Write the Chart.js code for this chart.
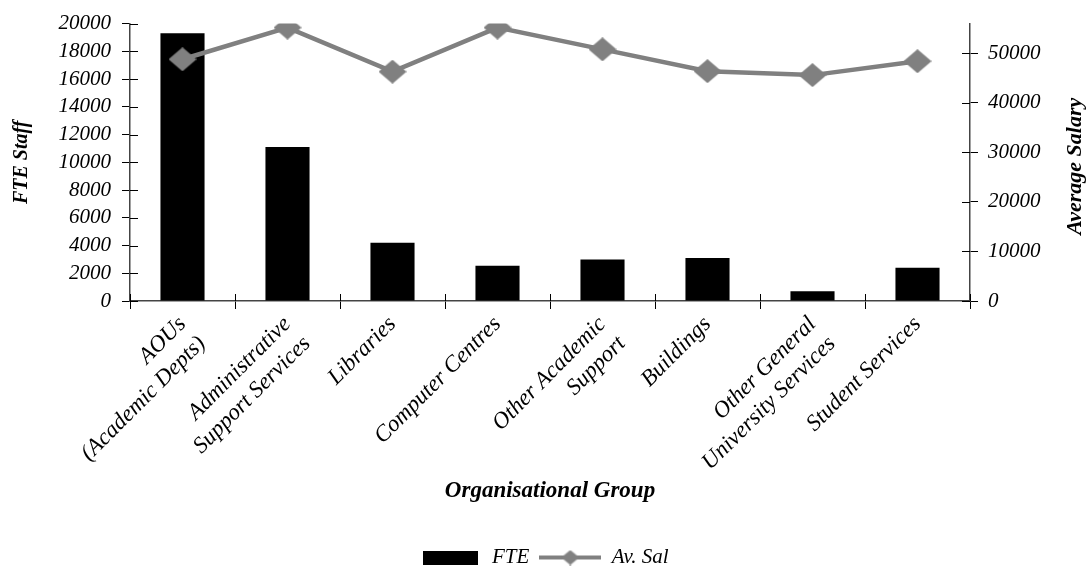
<!DOCTYPE html>
<html>
<head>
<meta charset="utf-8">
<script src="https://cdn.jsdelivr.net/npm/chart.js@4.4.0/dist/chart.umd.min.js"></script>
<style>
  html, body { margin: 0; padding: 0; background: #fff; }
</style>
</head>
<body>
<canvas id="myChart" width="1088" height="568"></canvas>
<script>
// datos
const categorias = [
  ["AOUs", "(Academic Depts)"],
  ["Administrative", "Support Services"],
  "Libraries",
  "Computer Centres",
  ["Other Academic", "Support"],
  "Buildings",
  ["Other General", "University Services"],
  "Student Services"
];
const valoresFTE = [19300, 11100, 4200, 2550, 3000, 3100, 700, 2400];
const valoresSalario = [48800, 55200, 46300, 55200, 50800, 46400, 45600, 48400];
const ticksFTE = [0, 2000, 4000, 6000, 8000, 10000, 12000, 14000, 16000, 18000, 20000];
const ticksSalario = [0, 10000, 20000, 30000, 40000, 50000];
const maxFTE = 20000;
const maxSalario = 56000;

const fuente = '"Liberation Serif", serif';
const gris = '#808080';

// marcador rombo (mas ancho que alto, como en el original)
function rombo(w, h) {
  const c = document.createElement('canvas');
  c.width = w; c.height = h;
  const g = c.getContext('2d');
  g.fillStyle = gris;
  g.beginPath();
  g.moveTo(w / 2, 0); g.lineTo(w, h / 2); g.lineTo(w / 2, h); g.lineTo(0, h / 2);
  g.closePath();
  g.fill();
  return c;
}

function cajaFTE() {
  const c = document.createElement('canvas');
  c.width = 55; c.height = 14;
  const g = c.getContext('2d');
  g.fillStyle = '#000';
  g.fillRect(0, 0, 55, 14);
  return c;
}

function lineaSalario() {
  const c = document.createElement('canvas');
  c.width = 62; c.height = 16;
  const g = c.getContext('2d');
  g.strokeStyle = gris;
  g.lineWidth = 4;
  g.beginPath(); g.moveTo(0, 8); g.lineTo(62, 8); g.stroke();
  g.drawImage(rombo(18, 15), 22, 0.5);
  return c;
}

// marcas de eje que cruzan la linea del eje, y titulo del eje derecho
const marcasInternas = {
  id: 'marcasInternas',
  afterDraw(chart) {
    const ctx = chart.ctx;
    const area = chart.chartArea;
    const x = chart.scales.x, y = chart.scales.y, y1 = chart.scales.y1;
    ctx.save();
    ctx.strokeStyle = '#000';
    ctx.lineWidth = 1;
    ctx.beginPath();
    y.ticks.forEach((t, i) => {
      const py = Math.round(y.getPixelForTick(i)) + 0.5;
      ctx.moveTo(area.left, py); ctx.lineTo(area.left + 8, py);
    });
    y1.ticks.forEach((t, i) => {
      const py = Math.round(y1.getPixelForTick(i)) + 0.5;
      ctx.moveTo(area.right - 8, py); ctx.lineTo(area.right, py);
    });
    for (let i = 0; i <= categorias.length; i++) {
      const px = Math.round(x.getPixelForValue(i - 0.5)) + 0.5;
      ctx.moveTo(px, area.bottom - 7); ctx.lineTo(px, area.bottom);
    }
    ctx.stroke();

    ctx.translate(chart.width - 13, (area.top + area.bottom) / 2 + 4);
    ctx.rotate(-Math.PI / 2);
    ctx.font = 'italic bold 22px ' + fuente;
    ctx.fillStyle = '#000';
    ctx.textAlign = 'center';
    ctx.textBaseline = 'middle';
    ctx.fillText('Average Salary', 0, 0);
    ctx.restore();
  }
};

const ctx = document.getElementById('myChart');
new Chart(ctx, {
  data: {
    labels: categorias,
    datasets: [
      {
        type: 'bar',
        label: 'FTE',
        data: valoresFTE,
        yAxisID: 'y',
        backgroundColor: '#000',
        barPercentage: 0.42,
        categoryPercentage: 1,
        order: 2
      },
      {
        type: 'line',
        label: 'Av. Sal',
        data: valoresSalario,
        yAxisID: 'y1',
        borderColor: gris,
        borderWidth: 4.5,
        pointStyle: rombo(28, 24),
        pointRadius: 12,
        tension: 0,
        order: 1
      }
    ]
  },
  options: {
    responsive: false,
    devicePixelRatio: 1,
    animation: false,
    layout: { padding: { top: 20, bottom: -10, left: 0, right: 0 } },
    plugins: {
      tooltip: { enabled: false },
      legend: {
        position: 'bottom',
        labels: {
          usePointStyle: true,
          pointStyleWidth: 62,
          padding: 10,
          color: '#000',
          font: { family: fuente, style: 'italic', size: 21 },
          generateLabels: () => [
            { text: 'FTE', pointStyle: cajaFTE(), fillStyle: '#000', strokeStyle: '#000', lineWidth: 0, datasetIndex: 0 },
            { text: 'Av. Sal', pointStyle: lineaSalario(), fillStyle: gris, strokeStyle: gris, lineWidth: 0, datasetIndex: 1 }
          ]
        }
      }
    },
    scales: {
      x: {
        offset: true,
        grid: { drawOnChartArea: false, tickLength: 8, color: '#000', offset: true },
        border: { color: '#444', width: 1.5 },
        ticks: {
          autoSkip: false,
          minRotation: 45,
          maxRotation: 45,
          padding: 2,
          color: '#000',
          font: { family: fuente, style: 'italic', size: 23 }
        },
        title: {
          display: true,
          text: 'Organisational Group',
          color: '#000',
          font: { family: fuente, style: 'italic', weight: 'bold', size: 23 },
          padding: { top: 0, bottom: 32 }
        },
        afterFit: (s) => { s.height = 236; }
      },
      y: {
        position: 'left',
        min: 0,
        max: maxFTE,
        afterBuildTicks: (s) => { s.ticks = ticksFTE.map(v => ({ value: v })); },
        grid: { drawOnChartArea: false, tickLength: 8, color: '#000' },
        border: { color: '#444', width: 1.5 },
        ticks: {
          autoSkip: false,
          padding: 11,
          color: '#000',
          font: { family: fuente, style: 'italic', size: 21 },
          callback: (v) => String(v)
        },
        title: {
          display: true,
          text: 'FTE Staff',
          color: '#000',
          font: { family: fuente, style: 'italic', weight: 'bold', size: 20 },
          padding: { top: 10, bottom: 0 }
        },
        afterFit: (s) => { s.width = 130; }
      },
      y1: {
        position: 'right',
        min: 0,
        max: maxSalario,
        afterBuildTicks: (s) => { s.ticks = ticksSalario.map(v => ({ value: v })); },
        grid: { drawOnChartArea: false, tickLength: 8, color: '#000' },
        border: { color: '#444', width: 1.5 },
        ticks: {
          autoSkip: false,
          padding: 10,
          color: '#000',
          font: { family: fuente, style: 'italic', size: 21 },
          callback: (v) => String(v)
        },
        afterFit: (s) => { s.width = 118; }
      }
    }
  },
  plugins: [marcasInternas]
});
</script>
</body>
</html>
